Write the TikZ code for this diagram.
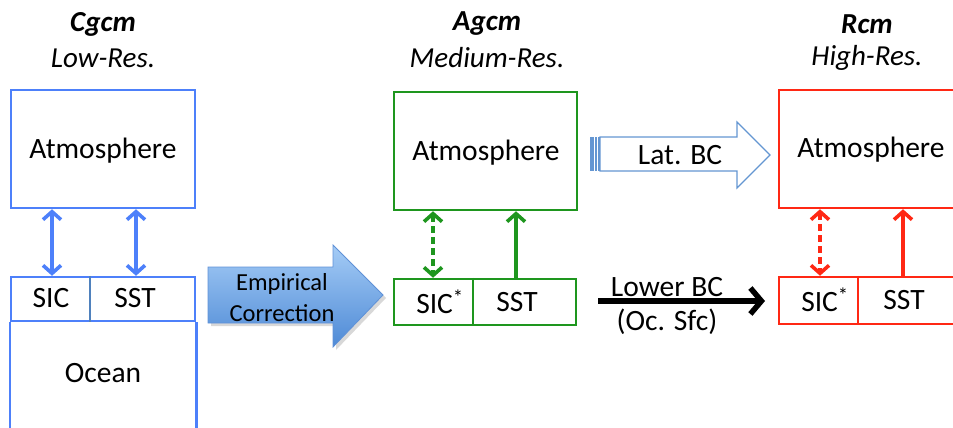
\documentclass[tikz,border=0pt]{standalone}
\usepackage{fontspec}
\setmainfont{Carlito}
\usetikzlibrary{arrows.meta}
\definecolor{cblue}{RGB}{77,128,250}
\definecolor{cdiv}{RGB}{79,129,189}
\definecolor{cgreen}{RGB}{30,150,30}
\definecolor{cred}{RGB}{255,40,20}
\definecolor{latblue}{RGB}{100,150,210}
\definecolor{emptop}{RGB}{165,204,246}
\definecolor{empbot}{RGB}{78,138,214}
\definecolor{empline}{RGB}{95,145,215}
\begin{document}
\begin{tikzpicture}[x=1pt,y=-1pt,
  every node/.style={font=\fontsize{29.5}{34}\selectfont, inner sep=0pt},
  box/.style={draw=#1, line width=2.5pt, fill=none},
  titlebf/.style={font=\fontsize{29}{34}\selectfont\bfseries\itshape},
  titleit/.style={font=\fontsize{29}{34}\selectfont\itshape},
  link/.style={draw=#1, line width=3.6pt, {Straight Barb[length=8pt,width=18pt]}-{Straight Barb[length=8pt,width=18pt]}},
  dlink/.style={link=#1, dash pattern=on 7pt off 4pt},
  uplink/.style={draw=#1, line width=3.6pt, -{Straight Barb[length=8pt,width=18pt]}},
]
\useasboundingbox (0,0) rectangle (953,428);

% ---------------- titles
\node[titlebf] (tC) at (103,24) {Cgcm};
\node[titleit] (tCr) at (103,58) {Low-Res.};
\node[titlebf] (tA) at (487,24) {Agcm};
\node[titleit] (tAr) at (487,58) {Medium-Res.};
\node[titlebf] (tR) at (867,24) {Rcm};
\node[titleit] (tRr) at (867,58) {High-Res.};

% ---------------- Cgcm (blue)
\node[box=cblue, minimum width=184pt, minimum height=118pt] (cAtm) at (103,149) {};
\node (cAtmT) at (103,151) {Atmosphere};
\node[box=cblue, minimum width=184pt, minimum height=44pt] (cSfc) at (103,299) {};
\draw[cblue, line width=2.5pt] (cSfc.south west) -- ++(0,120);
\draw[cblue, line width=2.5pt] (cSfc.south east) -- ++(0,120);
\coordinate (cDiv) at (90,0);
\draw[cdiv, line width=2.5pt] (cDiv |- cSfc.north) -- (cDiv |- cSfc.south);
\node (cSIC) at (51,298) {SIC};
\node (cSST) at (135,298) {SST};
\node (cOcean) at (103,373) {Ocean};
\coordinate (cL) at (52,0);
\coordinate (cR) at (136,0);
\draw[link=cblue] (cL |- cAtm.south) -- (cL |- cSfc.north);
\draw[link=cblue] (cR |- cAtm.south) -- (cR |- cSfc.north);

% ---------------- Empirical correction arrow
\fill[gray!60, opacity=0.5] (211,270) -- (336,270) -- (336,248) -- (386,298) -- (336,350) -- (336,326) -- (211,326) -- cycle;
\path[top color=emptop, bottom color=empbot, draw=empline, line width=0.8pt]
  (208,267) -- (333,267) -- (333,245) -- (383,295) -- (333,347) -- (333,323) -- (208,323) -- cycle;
\node[align=center, font=\fontsize{24.5}{31}\selectfont] (emp) at (282,298) {Empirical\\Correction};

% ---------------- Agcm (green)
\node[box=cgreen, minimum width=183pt, minimum height=118pt] (gAtm) at (485.5,151) {};
\node (gAtmT) at (486,153) {Atmosphere};
\node[box=cgreen, minimum width=182pt, minimum height=46pt] (gSfc) at (485,302) {};
\coordinate (gDiv) at (473,0);
\draw[cgreen, line width=2.5pt] (gDiv |- gSfc.north) -- (gDiv |- gSfc.south);
\node (gSIC) at (440,302) {SIC\textsuperscript{*}};
\node (gSST) at (517,302) {SST};
\coordinate (gL) at (433,0);
\coordinate (gR) at (516,0);
\draw[dlink=cgreen] (gL |- gAtm.south) -- (gL |- gSfc.north);
\draw[uplink=cgreen] (gR |- gSfc.north) -- (gR |- gAtm.south);

% ---------------- Lat. BC arrow
\path[draw=latblue, line width=1.2pt, fill=white]
  (600,137) -- (737,137) -- (737,122) -- (770,155) -- (737,188) -- (737,171) -- (600,171) -- cycle;
\fill[latblue] (590,137) rectangle (593.5,171);
\fill[latblue] (595,137) rectangle (596.5,171);
\fill[latblue] (598,137) rectangle (599.5,171);
\node (lat) at (680,155) {Lat. BC};

% ---------------- Lower BC arrow
\coordinate (lbS) at (598,301);
\coordinate (lbE) at (765,301);
\draw[line width=5.5pt, -{Straight Barb[length=11pt,width=26pt]}] (lbS) -- (lbE);
\node (lbT) at (667,287) {Lower BC};
\node (lbB) at (667,322) {(Oc. Sfc)};

% ---------------- Rcm (red)
\node[box=cred, minimum width=186pt, minimum height=118pt] (rAtm) at (872,149) {};
\node (rAtmT) at (871,150) {Atmosphere};
\node[box=cred, minimum width=186pt, minimum height=47pt] (rSfc) at (872,300.5) {};
\coordinate (rDiv) at (858,0);
\draw[cred, line width=2.5pt] (rDiv |- rSfc.north) -- (rDiv |- rSfc.south);
\node (rSIC) at (825,300) {SIC\textsuperscript{*}};
\node (rSST) at (904,300) {SST};
\coordinate (rL) at (820,0);
\coordinate (rR) at (903,0);
\draw[dlink=cred] (rL |- rAtm.south) -- (rL |- rSfc.north);
\draw[uplink=cred] (rR |- rSfc.north) -- (rR |- rAtm.south);
\end{tikzpicture}
\end{document}
